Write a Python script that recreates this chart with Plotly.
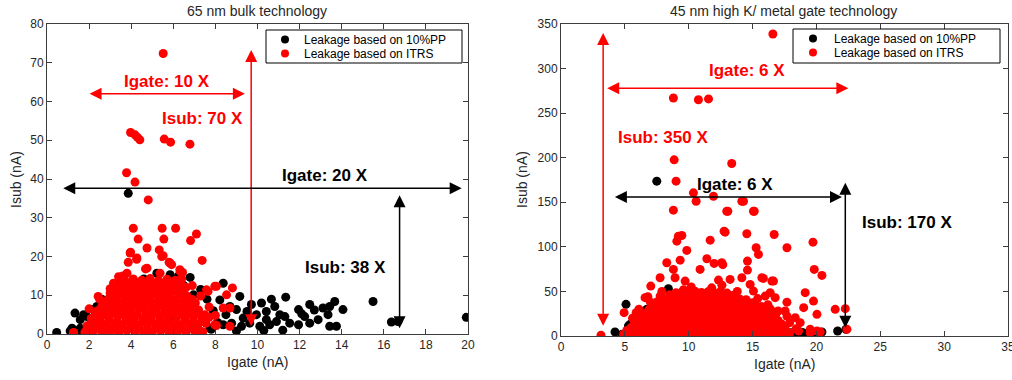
import plotly.graph_objects as go

# ---------------- Data: 65 nm bulk technology ----------------
bulk_pp_x = [0.46, 1.33, 1.19, 1.58, 1.9, 2.37, 2.93, 3.16, 3.4, 5.22, 5.85, 6.25, 6.8, 6.96, 1.58, 2.06, 2.21, 2.53,
             1.74, 3.32, 3.8, 3.86, 1.1, 1.4, 1.7, 2.0, 2.6, 3.5, 4.6, 7.3, 7.6, 7.9, 7.5, 7.8, 8.1,
             8.37, 9.16, 9.71, 10.19, 10.66, 11.34, 10.82, 10.42, 11.06, 11.3, 11.95, 12.48, 12.24, 11.95, 13.11,
             13.35, 13.67, 12.88, 12.48, 13.75, 9.95, 9.32, 9.0, 8.69, 8.21, 9.63, 10.11, 10.58, 10.9, 10.42, 11.53,
             8.77, 9.24, 8.37, 7.74, 14.06, 13.43, 13.43, 15.49, 16.36, 16.67, 19.92, 9.0, 10.3, 11.2, 8.5, 9.5,
             12.1, 12.7, 3.0, 4.0, 5.0, 6.0, 4.5, 5.5, 2.8, 6.5]
bulk_pp_y = [0.4, 5.4, 1.5, 3.7, 4.5, 7.1, 8.4, 11.4, 12.3, 15.7, 15.3, 15.0, 14.6, 10.1, 1.5, 2.4, 6.3, 5.0,
             5.0, 8.0, 12.3, 36.3, 0.8, 0.5, 0.9, 0.6, 9.0, 13.5, 14.2, 11.5, 9.0, 6.0, 3.5, 1.2, 3.0,
             13.1, 9.7, 7.6, 8.0, 9.0, 9.5, 7.1, 5.8, 5.0, 4.5, 6.3, 7.6, 4.5, 2.4, 6.7,
             5.0, 8.4, 3.7, 2.8, 2.0, 5.0, 4.1, 6.3, 7.1, 8.8, 2.8, 2.0, 2.4, 3.2, 3.7, 2.8,
             2.8, 2.0, 2.4, 1.5, 6.3, 7.1, 2.0, 8.4, 3.1, 3.2, 4.3, 0.8, 0.9, 1.0, 5.0, 5.8,
             5.2, 6.2, 3.0, 5.0, 6.0, 4.0, 11.0, 9.5, 1.5, 12.5]

bulk_itrs_x = [5.52, 3.97, 4.18, 4.29, 4.41, 5.57, 5.87, 6.79, 3.78, 4.18, 4.81, 4.10, 5.47, 6.11, 7.1, 4.33, 5.55,
               6.82, 3.97, 4.75, 5.33, 5.52, 4.26, 3.86, 5.92, 5.8, 7.37, 6.31, 6.44, 4.68, 2.43, 7.58, 8.05, 8.81,
               8.53, 8.69, 8.05, 7.26, 1.25, 8.69, 7.97, 7.65, 8.37, 7.97, 3.0, 3.16, 3.4, 3.8, 3.95, 4.27, 4.75,
               5.37, 5.45, 5.85, 6.33, 2.3, 1.27,
               2.0, 2.5, 3.0, 6.9, 7.3, 7.7, 8.0, 3.6, 6.4,
               1.8, 2.2, 2.6, 3.0, 3.4, 3.8, 4.2, 4.6, 5.0, 5.4, 5.8, 6.2, 6.6, 7.0, 7.4,
               2.0, 2.4, 2.8, 3.2, 3.6, 4.0, 4.4, 4.8, 5.2, 5.6, 6.0, 6.4, 6.8, 7.2,
               1.9, 2.35, 2.75, 3.15, 3.55, 3.95, 4.35, 4.75, 5.15, 5.55, 5.95, 6.35, 6.75, 7.15, 7.55,
               2.15, 2.55, 2.95, 3.35, 3.75, 4.15, 4.55, 4.95, 5.35, 5.75, 6.15, 6.55, 6.95, 7.35,
               2.1, 2.55, 2.95, 3.35, 3.75, 4.15, 4.55, 4.95, 5.35, 5.75, 6.15, 6.55, 6.95, 7.35, 7.7,
               2.3, 2.7, 3.1, 3.5, 3.9, 4.3, 4.7, 5.1, 5.5, 5.9, 6.3, 6.7, 7.1, 7.5,
               2.4, 2.8, 3.2, 3.6, 4.0, 4.4, 4.8, 5.2, 5.6, 6.0, 6.4, 6.8, 7.2,
               2.6, 3.0, 3.4, 3.8, 4.2, 4.6, 5.0, 5.4, 5.8, 6.2, 6.6, 7.0,
               2.7, 3.1, 3.5, 3.9, 4.3, 4.7, 5.1, 5.5, 5.9, 6.3, 6.7, 7.05,
               2.9, 3.3, 3.7, 4.1, 4.5, 4.9, 5.3, 5.7, 6.1, 6.5, 6.9,
               3.05, 3.45, 3.85, 4.25, 4.65, 5.05, 5.45, 5.85, 6.25, 6.65,
               3.25, 3.65, 4.05, 4.45, 4.85, 5.25, 5.65, 6.05, 6.45,
               3.4, 3.8, 4.2, 4.6, 5.0, 5.4, 5.8, 6.2, 6.6,
               3.55, 3.95, 4.35, 4.75, 5.15, 5.55, 5.95, 6.35,
               3.7, 4.1, 4.5, 4.9, 5.3, 5.7, 6.1]
bulk_itrs_y = [72.4, 52.0, 51.4, 50.8, 50.1, 50.3, 49.5, 49.0, 41.6, 39.2, 34.6, 27.3, 27.3, 27.3, 25.8, 24.5, 24.5,
               24.1, 21.1, 22.2, 21.7, 20.2, 19.3, 18.5, 17.9, 18.5, 19.0, 16.6, 15.9, 16.8, 9.7, 11.4, 12.3, 11.9,
               10.1, 2.0, 2.2, 0.7, 0.3, 6.7, 12.3, 11.0, 6.7, 2.4, 10.6, 13.1, 14.8, 15.7, 20.9, 19.6, 17.0,
               15.7, 20.0, 18.3, 16.1, 4.5, 0.4,
               6.5, 9.0, 11.7, 12.5, 9.8, 7.0, 4.8, 15.0, 14.3,
               0.5, 0.8, 0.4, 0.7, 0.3, 0.9, 0.5, 0.6, 0.4, 0.8, 0.5, 0.7, 0.4, 0.9, 0.6,
               1.4, 1.6, 1.2, 1.5, 1.3, 1.7, 1.4, 1.2, 1.6, 1.5, 1.3, 1.4, 1.6, 1.2,
               2.1, 2.6, 2.0, 2.4, 2.2, 2.7, 2.1, 2.5, 2.3, 2.0, 2.6, 2.2, 2.5, 2.1, 2.8,
               3.3, 3.1, 3.5, 3.2, 3.4, 3.0, 3.3, 3.6, 3.2, 3.4, 3.1, 3.5, 3.3, 3.2,
               4.0, 4.4, 3.9, 4.5, 4.1, 4.3, 3.9, 4.6, 4.2, 4.0, 4.4, 4.1, 4.5, 3.9, 4.3,
               5.2, 5.0, 5.4, 5.1, 5.3, 4.9, 5.2, 5.5, 5.0, 5.3, 5.1, 5.4, 5.2, 5.0,
               6.0, 6.4, 5.9, 6.3, 6.0, 6.5, 6.1, 5.8, 6.4, 6.0, 6.3, 5.9, 6.2,
               7.1, 6.9, 7.3, 7.0, 7.2, 6.8, 7.1, 7.4, 6.9, 7.2, 7.0, 7.3,
               7.9, 8.3, 7.8, 8.2, 8.0, 8.4, 7.9, 8.1, 8.3, 7.8, 8.2, 8.0,
               9.0, 8.8, 9.2, 8.9, 9.1, 8.7, 9.0, 9.3, 8.8, 9.1, 8.9,
               9.9, 10.3, 9.8, 10.2, 10.0, 10.4, 9.9, 10.1, 10.3, 9.8,
               11.0, 10.8, 11.2, 10.9, 11.1, 10.7, 11.0, 11.3, 10.9,
               11.8, 12.2, 12.0, 12.4, 11.9, 12.1, 12.3, 11.8, 12.0,
               13.0, 12.8, 13.2, 12.9, 13.1, 12.7, 13.0, 12.9,
               13.8, 14.2, 13.9, 14.3, 13.8, 14.1, 13.9]

# ---------------- Data: 45 nm high K / metal gate ----------------
hk_pp_x = [4.23, 5.09, 6.45, 6.58, 8.41, 9.07, 5.28, 17.95, 19.26, 20.43, 21.66, 22.31, 18.47, 16.12, 15.07, 7.5,
           5.41, 6.72, 6.2, 5.7, 4.8, 5.9, 7.0, 7.4, 6.9, 8.0, 9.6, 10.5, 12.0, 13.5, 16.5, 17.3, 19.0, 18.9,
           20.0, 14.5, 12.5, 11.0, 9.0, 7.5, 6.0]
hk_pp_y = [4.5, 35.5, 22.4, 28.0, 53.1, 33.6, 11.2, 3.7, 3.0, 4.5, 5.6, 7.5, 3.0, 18.0, 5.6, 173.7,
           13.1, 29.9, 20.0, 8.0, 2.0, 16.0, 24.0, 30.0, 17.0, 38.0, 28.0, 30.0, 25.0, 15.0, 3.0, 2.5, 1.5, 4.0,
           2.0, 3.0, 2.0, 1.5, 1.0, 1.5, 1.0]

hk_itrs_x = [16.59, 8.8, 10.76, 11.55, 8.86, 13.37, 9.01, 10.37, 10.58, 11.94, 8.8, 13.06, 15.13, 14.29, 12.85,
             9.46, 9.07, 11.68, 14.55, 16.69, 19.73, 15.28, 15.46, 17.69, 9.85, 8.28, 9.33, 10.89, 11.42, 11.99,
             12.67, 14.6, 14.6, 19.83, 20.43, 8.8, 7.76, 9.72, 7.03, 12.33, 13.24, 14.16, 15.85, 16.64, 14.81,
             15.07, 16.38, 16.77, 17.69, 19.12, 19.0, 19.77, 20.04, 21.47, 22.26, 17.69, 18.34, 18.73, 19.51,
             20.3, 22.39, 6.58, 7.76, 4.94, 5.88, 3.13, 9.19, 8.93, 12.98, 12.77, 14.16, 15.07, 12.59, 15.73,
             16.51, 15.99, 16.77, 17.55, 18.6, 20.04, 19.51,
             5.6, 6.1, 7.0, 7.9, 10.2, 11.8, 13.8, 15.4, 16.2, 17.0, 17.9, 18.4, 6.8, 12.6, 9.6,
             4.9, 5.4, 5.9, 6.4, 6.9, 7.4, 7.9, 8.4, 8.9, 9.4, 9.9, 10.4, 10.9, 11.4, 11.9, 12.4, 12.9, 13.4,
             13.9, 14.4, 14.9, 15.4, 15.9, 16.4, 16.9, 17.4, 17.9,
             5.15, 5.65, 6.15, 6.65, 7.15, 7.65, 8.15, 8.65, 9.15, 9.65, 10.15, 10.65, 11.15, 11.65, 12.15, 12.65,
             13.15, 13.65, 14.15, 14.65, 15.15, 15.65, 16.15, 16.65, 17.15, 17.65,
             5.5, 6.0, 6.5, 7.0, 7.5, 8.0, 8.5, 9.0, 9.5, 10.0, 10.5, 11.0, 11.5, 12.0, 12.5, 13.0, 13.5, 14.0,
             14.5, 15.0, 15.5, 16.0, 16.5, 17.0, 17.5,
             5.75, 6.25, 6.75, 7.25, 7.75, 8.25, 8.75, 9.25, 9.75, 10.25, 10.75, 11.25, 11.75, 12.25, 12.75,
             13.25, 13.75, 14.25, 14.75, 15.25, 15.75, 16.25, 16.75, 17.25,
             6.0, 6.5, 7.0, 7.5, 8.0, 8.5, 9.0, 9.5, 10.0, 10.5, 11.0, 11.5, 12.0, 12.5, 13.0, 13.5, 14.0,
             14.5, 15.0, 15.5, 16.0, 16.5, 17.0,
             6.3, 6.8, 7.3, 7.8, 8.3, 8.8, 9.3, 9.8, 10.3, 10.8, 11.3, 11.8, 12.3, 12.8, 13.3, 13.8, 14.3, 14.8,
             15.3, 15.8, 16.3, 16.8,
             6.6, 7.1, 7.6, 8.1, 8.6, 9.1, 9.6, 10.1, 10.6, 11.1, 11.6, 12.1, 12.6, 13.1, 13.6, 14.1, 14.6,
             15.1, 15.6, 16.1, 16.6,
             6.9, 7.4, 7.9, 8.4, 8.9, 9.4, 9.9, 10.4, 10.9, 11.4, 11.9, 12.4, 12.9, 13.4, 13.9, 14.4, 14.9,
             15.4, 15.9, 16.4,
             7.2, 7.7, 8.2, 8.7, 9.2, 9.7, 10.2, 10.7, 11.2, 11.7, 12.2, 12.7, 13.2, 13.7, 14.2, 14.7, 15.2, 15.7,
             7.5, 8.0, 8.5, 9.0, 9.5, 10.0, 10.5, 11.0, 11.5, 12.0, 12.5, 13.0, 13.5, 14.0, 14.5, 15.0,
             8.0, 8.5, 9.0, 9.5, 10.0, 10.5, 11.0, 11.5, 12.0, 12.5, 13.0, 13.5, 14.0, 14.5,
             8.5, 9.0, 9.5, 10.0, 10.5, 11.0, 11.5, 12.0, 12.5, 13.0, 13.5,
             9.0, 9.5, 10.0, 10.5, 11.0, 11.5, 12.0, 12.5, 13.0]
hk_itrs_y = [338.8, 267.0, 265.0, 266.0, 197.6, 193.5, 173.7, 160.6, 151.2, 156.8, 141.2, 140.0, 140.0, 151.2, 116.5,
             112.8, 106.4, 107.5, 114.7, 113.9, 105.3, 99.0, 91.5, 99.0, 96.0, 82.2, 85.1, 74.7, 86.7, 81.4,
             80.0, 84.0, 73.9, 74.7, 68.0, 74.7, 65.4, 61.6, 56.0, 62.7, 63.5, 65.4, 64.6, 61.6, 57.9,
             50.4, 48.6, 43.0, 38.0, 48.6, 31.8, 39.2, 24.3, 29.9, 30.7, 22.4, 20.6, 15.0, 7.5,
             4.5, 7.5, 43.0, 44.8, 26.2, 26.2, 0.8, 112.0, 65.4, 140.0, 117.6, 151.2, 140.0, 82.2, 65.4,
             61.6, 44.8, 26.2, 28.0, 5.6, 5.6, 3.7,
             20.0, 30.0, 38.0, 50.0, 55.0, 54.0, 50.0, 42.0, 35.0, 28.0, 15.0, 8.0, 44.0, 57.0, 52.0,
             2.1, 3.4, 1.6, 2.8, 3.9, 1.8, 2.5, 3.6, 1.5, 2.9, 3.2, 1.7, 2.6, 3.8, 1.9, 2.4, 3.5, 1.6,
             2.7, 3.3, 1.8, 2.2, 3.7, 1.5, 2.9, 2.0, 3.1,
             6.2, 5.4, 6.8, 5.9, 6.5, 5.6, 7.0, 6.1, 5.5, 6.7, 6.0, 5.8, 6.9, 6.3, 5.7, 6.6, 6.1, 5.5, 6.8, 6.2,
             5.9, 6.4, 5.6, 6.7, 6.0, 5.8,
             9.5, 11.2, 10.1, 8.8, 11.6, 9.9, 10.7, 8.6, 11.4, 9.7, 10.3, 11.8, 9.1, 10.9, 8.9, 11.3, 10.0, 9.4,
             11.1, 10.5, 8.7, 11.7, 9.6, 10.4, 9.2,
             14.2, 13.6, 14.8, 13.9, 14.5, 13.3, 14.9, 14.1, 13.7, 14.6, 13.8, 14.4, 13.5, 14.7, 14.0, 13.6,
             14.3, 14.8, 13.9, 14.2, 13.4, 14.6, 14.0, 13.8,
             17.6, 18.9, 16.8, 18.3, 17.2, 19.1, 16.9, 18.6, 17.4, 18.1, 16.7, 19.0, 17.8, 18.4, 16.6, 18.8, 17.1,
             18.5, 17.3, 18.0, 16.9, 18.7, 17.5,
             22.1, 21.6, 22.8, 21.9, 22.5, 21.3, 22.9, 22.0, 21.7, 22.6, 21.8, 22.4, 21.5, 22.7, 22.2, 21.6,
             22.3, 22.9, 21.9, 22.1, 21.4, 22.6,
             25.4, 26.9, 24.8, 26.3, 25.1, 27.0, 24.6, 26.5, 25.8, 24.9, 26.7, 25.2, 26.1, 24.7, 26.8, 25.5, 26.0,
             24.5, 26.6, 25.3, 24.4,
             30.2, 29.6, 30.8, 29.9, 30.5, 29.4, 30.9, 30.1, 29.7, 30.6, 29.8, 30.4, 29.5, 30.7, 30.0, 29.6,
             30.3, 30.9, 29.9, 30.2,
             33.5, 34.8, 32.9, 34.2, 33.1, 35.0, 33.7, 34.4, 32.8, 34.9, 33.3, 34.6, 33.0, 34.1, 33.8, 32.7, 34.3, 33.2,
             38.1, 37.6, 38.7, 37.9, 38.4, 37.3, 38.8, 38.0, 37.7, 38.5, 37.8, 38.3, 37.5, 38.6, 38.2, 37.4,
             41.6, 42.8, 41.1, 43.2, 41.9, 42.5, 41.3, 43.0, 41.8, 42.2, 41.0, 42.9, 41.5, 40.8,
             46.2, 45.6, 46.8, 45.9, 46.5, 45.4, 46.9, 46.1, 45.7, 46.6, 45.8,
             48.6, 49.8, 48.2, 50.1, 48.9, 49.5, 48.4, 49.9, 48.1]

LEGEND_PP = "Leakage based on 10%PP"
LEGEND_ITRS = "Leakage based on ITRS"

FONT = "Liberation Sans, Arial, sans-serif"
MS = 9
RED, BLK = "#ff0000", "#000000"

fig = go.Figure()
for xs, ys, nm, col, xa, ya in (
        (bulk_pp_x, bulk_pp_y, LEGEND_PP, BLK, "x", "y"),
        (bulk_itrs_x, bulk_itrs_y, LEGEND_ITRS, RED, "x", "y"),
        (hk_pp_x, hk_pp_y, LEGEND_PP, BLK, "x2", "y2"),
        (hk_itrs_x, hk_itrs_y, LEGEND_ITRS, RED, "x2", "y2")):
    fig.add_trace(go.Scatter(x=xs, y=ys, mode="markers", name=nm, showlegend=False,
                             marker=dict(color=col, size=MS, line=dict(width=0)),
                             xaxis=xa, yaxis=ya))

W, H = 1012, 380

def px_x(p):
    return p / W

def px_y(p):
    return 1 - p / H

axis_common = dict(showline=True, linecolor="#3c3c3c", linewidth=1, mirror="ticks", ticks="inside",
                   ticklen=5, tickcolor="#3c3c3c", showgrid=False, zeroline=False, automargin=False,
                   ticklabeloverflow="allow",
                   tickfont=dict(family=FONT, size=12, color="#262626"))

fig.update_layout(
    width=W, height=H, margin=dict(l=0, r=0, t=0, b=0, autoexpand=False),
    paper_bgcolor="white", plot_bgcolor="white", showlegend=False,
    xaxis=dict(domain=[px_x(47), px_x(468)], range=[0, 20], dtick=2, anchor="y", **axis_common),
    yaxis=dict(domain=[px_y(334), px_y(24)], range=[0, 80], dtick=10, anchor="x", **axis_common),
    xaxis2=dict(domain=[px_x(561), px_x(1008)], range=[0, 35], dtick=5, anchor="y2", **axis_common),
    yaxis2=dict(domain=[px_y(336), px_y(24)], range=[0, 350], dtick=50, anchor="x2", **axis_common),
)

ann = []
shapes = []

def ptext(t, cx, cy, size=14, angle=0, xanchor="center", color="#262626"):
    return dict(text=t, x=px_x(cx), y=px_y(cy), xref="paper", yref="paper", xanchor=xanchor,
                yanchor="middle", textangle=angle, showarrow=False,
                font=dict(family=FONT, size=size, color=color))

# titles and axis labels
ann.append(ptext("65 nm bulk technology", 257, 11))
ann.append(ptext("45 nm high K/ metal gate technology", 783, 11))
ann.append(ptext("Igate (nA)", 257, 362))
ann.append(ptext("Igate (nA)", 784, 364))
ann.append(ptext("Isub (nA)", 16, 179, angle=-90))
ann.append(ptext("Isub (nA)", 522, 180, angle=-90))

# legend boxes (drawn as boxes, markers and text)
for (bx0, bx1, by0, by1, mx, tx) in ((266, 462, 30, 63, 285, 302), (793, 1000, 29, 63, 813, 832)):
    shapes.append(dict(type="rect", xref="paper", yref="paper", x0=px_x(bx0), x1=px_x(bx1),
                       y0=px_y(by1), y1=px_y(by0), fillcolor="white", line=dict(color="#000", width=1),
                       layer="above"))
    for (nm, col, ry) in ((LEGEND_PP, BLK, by0 + 9.5), (LEGEND_ITRS, RED, by0 + 23.5)):
        shapes.append(dict(type="circle", xref="paper", yref="paper", x0=px_x(mx - 4), x1=px_x(mx + 4),
                           y0=px_y(ry + 4), y1=px_y(ry - 4), fillcolor=col, line=dict(width=0),
                           layer="above"))
        ann.append(ptext(nm, tx, ry, size=12, xanchor="left", color="#000"))

def arrow(xr, yr, x0, y0, x1, y1, color):
    return dict(x=x1, y=y1, ax=x0, ay=y0, xref=xr, yref=yr, axref=xr, ayref=yr, text="",
                showarrow=True, arrowhead=2, arrowsize=1.6, arrowwidth=1.5, arrowcolor=color,
                arrowside="end+start", standoff=0, startstandoff=0)

def label(xr, yr, x, y, t, color):
    return dict(x=x, y=y, xref=xr, yref=yr, text="<b>" + t + "</b>", showarrow=False,
                xanchor="center", yanchor="middle",
                font=dict(family=FONT, size=17, color=color))

# left panel
ann.append(arrow("x", "y", 1.95, 62, 9.4, 62, RED))
ann.append(label("x", "y", 5.7, 65.2, "Igate: 10 X", RED))
ann.append(arrow("x", "y", 9.7, 1.6, 9.7, 73.3, RED))
ann.append(label("x", "y", 7.4, 55.7, "Isub: 70 X", RED))
ann.append(arrow("x", "y", 0.7, 37.6, 19.7, 37.6, BLK))
ann.append(label("x", "y", 13.2, 40.8, "Igate: 20 X", BLK))
ann.append(arrow("x", "y", 16.75, 1.1, 16.75, 35.8, BLK))
ann.append(label("x", "y", 14.2, 17.2, "Isub: 38 X", BLK))
# right panel
ann.append(arrow("x2", "y2", 3.3, 9.7, 3.3, 340, RED))
ann.append(label("x2", "y2", 8.0, 222.5, "Isub: 350 X", RED))
ann.append(arrow("x2", "y2", 3.5, 278, 22.5, 278, RED))
ann.append(label("x2", "y2", 14.55, 297.7, "Igate: 6 X", RED))
ann.append(arrow("x2", "y2", 4.1, 156, 22.0, 156, BLK))
ann.append(label("x2", "y2", 13.6, 170, "Igate: 6 X", BLK))
ann.append(arrow("x2", "y2", 22.26, 7.5, 22.26, 172, BLK))
ann.append(label("x2", "y2", 27.1, 127, "Isub: 170 X", BLK))

fig.update_layout(annotations=ann, shapes=shapes)

# remove the page's default body margin so the figure sits at the window's top-left corner
fig.write_html("out.html", config={"displayModeBar": False},
               post_script="document.body.style.margin='0';")
